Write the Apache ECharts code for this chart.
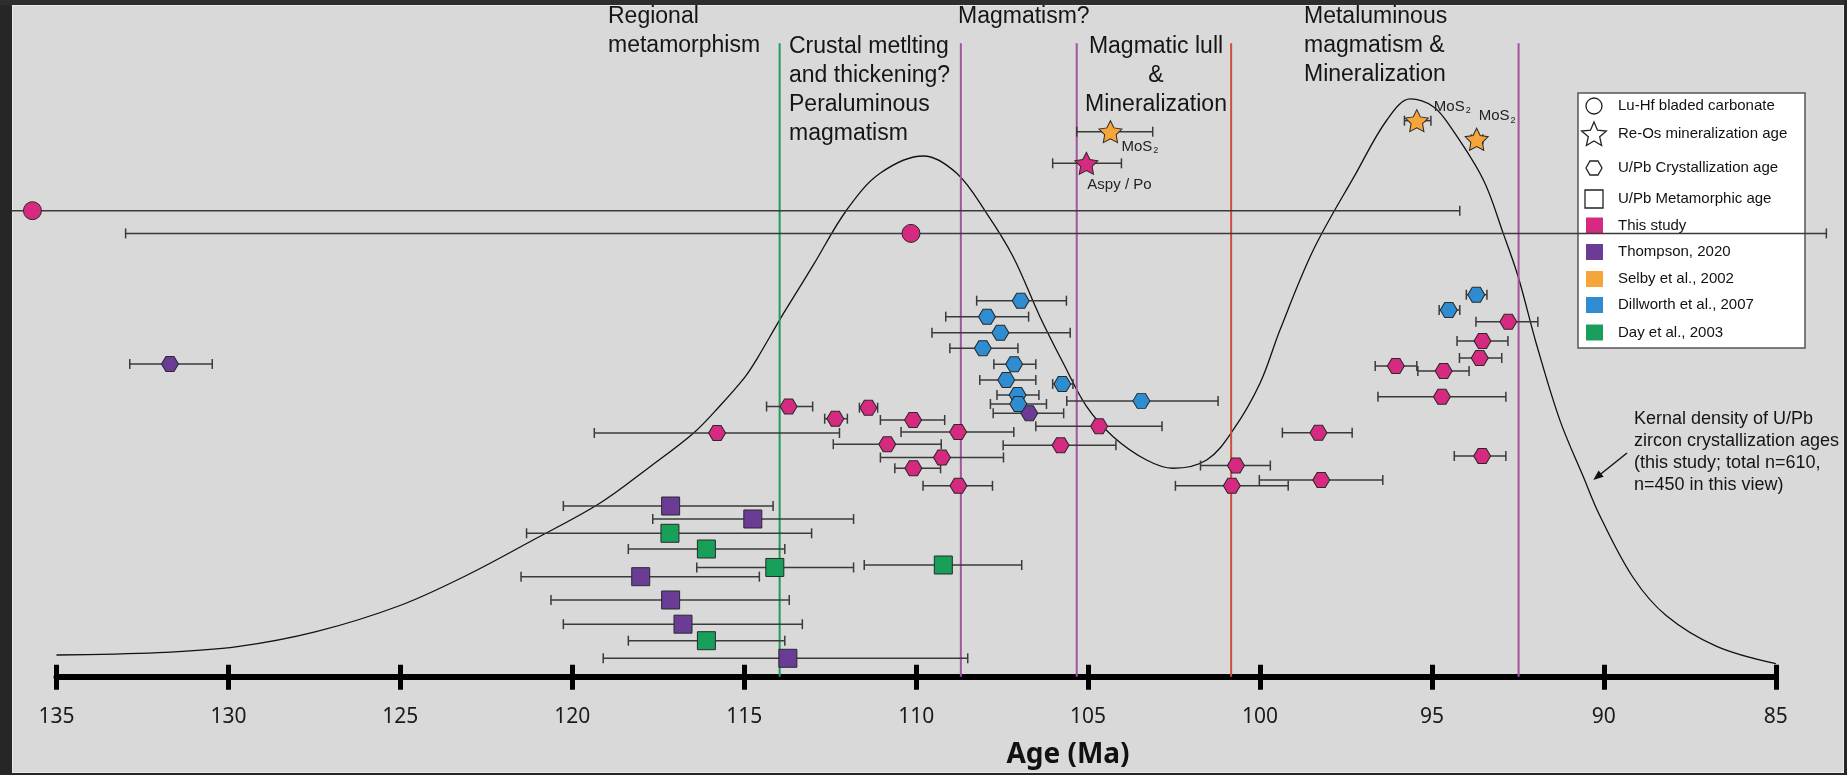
<!DOCTYPE html>
<html>
<head>
<meta charset="utf-8">
<title>Age (Ma)</title>
<script src="https://cdn.jsdelivr.net/npm/echarts@6/dist/echarts.min.js"></script>
<style>
  html, body { margin:0; padding:0; background:#262626; }
  #ageChart { width:1847px; height:775px; }
</style>
</head>
<body>
<div id="ageChart"></div>
<script>
// x axis: age in Ma (old on the left)
var ageTicks = [135, 130, 125, 120, 115, 110, 105, 100, 95, 90, 85];

// every sample: [age, older end of error, younger end of error, row]
// row = place in the stack, 0 = axis, 100 = top of plot
var luHfThisStudy = [
  [135.70, 177.20, 94.19, 69.38],
  [110.15, 132.99, 83.53, 66.00]
];
var reOsThisStudy = [
  [105.05, 106.03, 104.03, 76.43]
];
var reOsThisStudyLabels = ['Aspy / Po'];
var reOsSelby = [
  [104.35, 105.33, 103.12, 81.14],
  [95.44, 95.80, 95.03, 82.78],
  [93.70, 93.85, 93.52, 80.01]
];
var reOsSelbyLabels = ['MoS{sub|2}', 'MoS{sub|2}', 'MoS{sub|2}'];

var upbThisStudy = [
  [113.71, 114.35, 113.01, 40.23],
  [112.35, 112.66, 112.00, 38.41],
  [111.39, 111.65, 111.12, 40.05],
  [110.09, 111.04, 109.17, 38.22],
  [115.79, 119.36, 112.23, 36.28],
  [108.78, 110.44, 107.16, 36.43],
  [104.68, 106.52, 102.85, 37.28],
  [110.84, 112.41, 109.27, 34.61],
  [105.80, 107.47, 104.19, 34.45],
  [109.25, 111.04, 107.46, 32.63],
  [110.08, 110.62, 109.29, 31.03],
  [108.77, 109.80, 107.78, 28.42],
  [100.70, 101.73, 99.70, 31.44],
  [100.82, 102.46, 99.18, 28.42],
  [98.22, 100.02, 96.43, 29.28],
  [92.78, 93.72, 91.92, 52.84],
  [93.53, 94.27, 92.79, 49.98],
  [93.61, 94.20, 92.97, 47.45],
  [96.05, 96.65, 95.44, 46.26],
  [94.66, 95.41, 93.92, 45.51],
  [94.71, 96.57, 92.85, 41.67],
  [98.30, 99.35, 97.32, 36.33],
  [93.54, 94.35, 92.85, 32.86]
];
var upbThompson = [
  [131.70, 132.87, 130.47, 46.55],
  [106.71, 107.76, 105.71, 39.21]
];
var upbDillworth = [
  [106.96, 108.24, 105.63, 55.98],
  [107.94, 109.14, 106.73, 53.60],
  [107.55, 109.54, 105.52, 51.21],
  [108.06, 109.02, 107.04, 48.89],
  [107.15, 107.74, 106.52, 46.51],
  [107.38, 108.15, 106.52, 44.17],
  [105.75, 106.03, 105.44, 43.58],
  [103.45, 105.62, 101.22, 41.06],
  [107.05, 107.65, 106.43, 41.94],
  [107.03, 107.84, 106.21, 40.60],
  [93.71, 94.00, 93.40, 56.87],
  [94.51, 94.79, 94.19, 54.59]
];
var metaThompson = [
  [117.14, 120.26, 114.16, 25.41],
  [114.75, 117.66, 111.82, 23.48],
  [118.01, 121.49, 114.56, 14.89],
  [117.14, 120.62, 113.69, 11.42],
  [116.78, 120.26, 113.31, 7.82],
  [113.73, 119.10, 108.50, 2.74]
];
var metaDay = [
  [117.16, 121.33, 113.04, 21.35],
  [116.10, 118.37, 113.82, 19.01],
  [114.11, 116.38, 111.82, 16.26],
  [109.21, 111.51, 106.93, 16.63],
  [116.10, 118.37, 113.82, 5.36]
];

// kernel density of U/Pb zircon ages (relative units)
var kdeAge = [135.00, 132.04, 129.74, 127.45, 125.01, 123.07, 121.14, 119.20, 117.74, 116.48,
  115.71, 114.98, 114.62, 113.96, 113.53, 112.99, 112.02, 111.05, 109.79, 108.82,
  107.95, 107.18, 106.40, 105.72, 105.04, 104.27, 103.30, 102.53, 101.55, 100.78,
  100.00, 99.42, 98.45, 97.21, 96.31, 95.63, 94.96, 94.48, 93.51, 92.93,
  92.49, 91.96, 91.28, 90.60, 90.12, 89.15, 88.18, 86.72, 85.00];
var kdeDensity = [3.23, 3.57, 4.47, 6.70, 10.60, 15.10, 20.35, 25.82, 31.26, 36.24,
  40.30, 44.60, 47.40, 53.20, 56.80, 61.30, 69.48, 74.94, 77.52, 74.94,
  68.99, 62.53, 53.60, 46.66, 40.20, 35.73, 32.26, 31.03, 32.26, 36.73,
  43.68, 51.61, 63.53, 74.94, 82.88, 86.01, 84.86, 82.00, 74.02, 66.04,
  59.50, 49.50, 38.20, 29.80, 24.00, 14.77, 9.07, 4.51, 1.94];

// phase boundaries (Ma)
var phaseAges = [113.97, 108.70, 105.33, 100.84, 92.48];

var colors = {
  thisStudy: '#d62980',
  thompson: '#6b3c96',
  selby: '#f6a53a',
  dillworth: '#2d8cd2',
  day: '#18a05a'
};
var phaseColors = ['#1f9c55', '#a2559c', '#a2559c', '#cf4f3a', '#a2559c'];
var phaseTop = 94.3;

var HEX = 'path://M0,7.5L4.5,0L12.5,0L17,7.5L12.5,15L4.5,15Z';
var STAR = 'path://M10,0L12.94,5.95L19.51,6.91L14.76,11.55L15.88,18.09L10,15L4.12,18.09L5.24,11.55L0.49,6.91L7.06,5.95Z';
var FONT = '"Liberation Sans", Arial, sans-serif';

//error bar with end caps
function renderErrorBar(params, api) {
  var row = api.value(3);
  var a = api.coord([api.value(1), row]);
  var b = api.coord([api.value(2), row]);
  var cap = 5;
  var st = {stroke: '#3a3a3a', lineWidth: 1.5};
  return {
    type: 'group',
    children: [
      {type: 'line', shape: {x1: a[0], y1: a[1], x2: b[0], y2: b[1]}, style: st},
      {type: 'line', shape: {x1: a[0], y1: a[1] - cap, x2: a[0], y2: a[1] + cap}, style: st},
      {type: 'line', shape: {x1: b[0], y1: b[1] - cap, x2: b[0], y2: b[1] + cap}, style: st}
    ]
  };
}

function renderPhase(params, api) {
  var p0 = api.coord([api.value(0), 0]);
  var p1 = api.coord([api.value(0), phaseTop]);
  return {
    type: 'line',
    shape: {x1: p0[0], y1: p0[1], x2: p1[0], y2: p1[1]},
    style: {stroke: phaseColors[params.dataIndex], lineWidth: 2}
  };
}

function ageAxis(inside) {
  return {
    type: 'value',
    inverse: true,
    position: 'bottom',
    min: Math.min.apply(null, ageTicks),
    max: Math.max.apply(null, ageTicks),
    interval: ageTicks[0] - ageTicks[1],
    axisLine: {show: !inside, onZero: false, lineStyle: {color: '#000', width: 6}},
    axisTick: {show: true, inside: inside, length: inside ? 12 : 13, lineStyle: {color: '#000', width: 5}},
    axisLabel: {
      show: !inside, margin: 40, verticalAlign: 'middle',
      fontSize: 21, fontFamily: '"Noto Sans", sans-serif', color: '#1a1a1a'
    },
    splitLine: {show: false}
  };
}

function starLabel(text, offset) {
  return {
    show: true, formatter: text, position: 'inside', offset: offset,
    align: 'left', verticalAlign: 'middle',
    fontSize: 15, fontFamily: FONT, color: '#222',
    rich: {sub: {fontSize: 9, fontFamily: FONT, color: '#222', padding: [8, 0, 0, 1]}}
  };
}

// one error bar series + one marker series per group
var groups = [
  {name: 'metaThompson', data: metaThompson, symbol: 'rect', size: 18, color: colors.thompson},
  {name: 'metaDay', data: metaDay, symbol: 'rect', size: 18, color: colors.day},
  {name: 'upbThompson', data: upbThompson, symbol: HEX, size: [17, 15], color: colors.thompson},
  {name: 'upbDillworth', data: upbDillworth, symbol: HEX, size: [17, 15], color: colors.dillworth},
  {name: 'upbThisStudy', data: upbThisStudy, symbol: HEX, size: [17, 15], color: colors.thisStudy},
  {name: 'luHf', data: luHfThisStudy, symbol: 'circle', size: 18, color: colors.thisStudy},
  {name: 'reOsThisStudy', data: reOsThisStudy, symbol: STAR, size: [23, 22], color: colors.thisStudy,
    labels: reOsThisStudyLabels, offsets: [[1, 22]]},
  {name: 'reOsSelby', data: reOsSelby, symbol: STAR, size: [23, 22], color: colors.selby,
    labels: reOsSelbyLabels, offsets: [[11, 15], [17, -14], [2, -23]]}
];

var seriesList = [
  {
    name: 'kde', type: 'line', smooth: 0.35, symbol: 'none', silent: true, z: 2,
    data: kdeAge.map(function (a, i) { return [a, kdeDensity[i]]; }),
    lineStyle: {color: '#111', width: 1.3}
  },
  {
    name: 'phases', type: 'custom', z: 3, silent: true,
    data: phaseAges.map(function (a) { return [a]; }),
    encode: {x: 0},
    renderItem: renderPhase
  }
];
groups.forEach(function (g) {
  seriesList.push({
    name: g.name + 'Err', type: 'custom', z: 4, silent: true,
    data: g.data, encode: {x: [0, 1, 2], y: 3},
    renderItem: renderErrorBar
  });
  seriesList.push({
    name: g.name, type: 'scatter', z: 5, clip: false, silent: true,
    symbol: g.symbol, symbolSize: g.size,
    encode: {x: 0, y: 3},
    itemStyle: {color: g.color, borderColor: '#2a2a2a', borderWidth: 1, opacity: 1},
    data: g.data.map(function (d, i) {
      if (!g.labels) return d;
      return {value: d, label: starLabel(g.labels[i], g.offsets[i])};
    })
  });
});

// legend shapes
function starPoints(cx, cy, R, r) {
  var pts = [];
  for (var k = 0; k < 10; k++) {
    var ang = (-90 + 36 * k) * Math.PI / 180;
    var rad = k % 2 ? r : R;
    pts.push([cx + rad * Math.cos(ang), cy + rad * Math.sin(ang)]);
  }
  return pts;
}
function hexPoints(cx, cy, w, h) {
  return [[cx - w / 2, cy], [cx - w / 4, cy - h / 2], [cx + w / 4, cy - h / 2],
    [cx + w / 2, cy], [cx + w / 4, cy + h / 2], [cx - w / 4, cy + h / 2]];
}

var legendItems = [
  {text: 'Lu-Hf bladed carbonate', y: 106},
  {text: 'Re-Os mineralization age', y: 134},
  {text: 'U/Pb Crystallization age', y: 168},
  {text: 'U/Pb Metamorphic age', y: 199},
  {text: 'This study', y: 225.5, color: colors.thisStudy},
  {text: 'Thompson, 2020', y: 252, color: colors.thompson},
  {text: 'Selby et al., 2002', y: 279, color: colors.selby},
  {text: 'Dillworth et al., 2007', y: 305, color: colors.dillworth},
  {text: 'Day et al., 2003', y: 332.5, color: colors.day}
];

var outline = {fill: 'none', stroke: '#222', lineWidth: 1.3};
var legendKids = [
  {type: 'rect', shape: {x: 1578, y: 93, width: 227, height: 255},
    style: {fill: '#fff', stroke: '#555', lineWidth: 1.5}},
  {type: 'circle', shape: {cx: 1594, cy: 106, r: 8}, style: outline},
  {type: 'polygon', shape: {points: starPoints(1594, 135, 13, 6)}, style: outline},
  {type: 'polygon', shape: {points: hexPoints(1594, 168, 16, 14)}, style: outline},
  {type: 'rect', shape: {x: 1585, y: 190, width: 18, height: 18}, style: outline}
];
legendItems.forEach(function (it) {
  if (it.color) {
    legendKids.push({type: 'rect', shape: {x: 1586, y: it.y - 8, width: 17, height: 16}, style: {fill: it.color}});
  }
  legendKids.push({type: 'text', style: {
    text: it.text, x: 1618, y: it.y, font: '15px ' + FONT, fill: '#111',
    textAlign: 'left', textVerticalAlign: 'middle'
  }});
});

function note(text, x, y, align) {
  return {type: 'text', z: 20, style: {
    text: text, x: x, y: y, font: '23px ' + FONT, fill: '#151515',
    textAlign: align || 'left', textVerticalAlign: 'top', lineHeight: 29
  }};
}

var frame = '#262626';
var graphics = [
  {type: 'rect', z: -10, shape: {x: 12, y: 5, width: 1832, height: 768},
    style: {fill: '#d9d9d9', stroke: '#eeeeee', lineWidth: 1.5}},
  note('Regional\nmetamorphism', 608, 2),
  note('Crustal metlting\nand thickening?\nPeraluminous\nmagmatism', 789, 32),
  note('Magmatism?', 958, 2),
  note('Magmatic lull\n&\nMineralization', 1156, 32, 'center'),
  note('Metaluminous\nmagmatism &\nMineralization', 1304, 2),
  {type: 'text', z: 20, style: {
    text: 'Kernal density of U/Pb\nzircon crystallization ages\n(this study; total n=610,\nn=450 in this view)',
    x: 1634, y: 408, font: '18px ' + FONT, fill: '#151515', textAlign: 'left', textVerticalAlign: 'top', lineHeight: 22
  }},
  {type: 'line', z: 20, shape: {x1: 1627, y1: 453, x2: 1597, y2: 477}, style: {stroke: '#111', lineWidth: 1.4}},
  {type: 'polygon', z: 20, shape: {points: [[1593.3, 480], [1603.6, 476.8], [1598.6, 470.6]]}, style: {fill: '#111'}},
  {type: 'group', z: 30, children: legendKids},
  {type: 'text', z: 20, style: {
    text: 'Age (Ma)', x: 1068, y: 755, font: 'bold 28px "Noto Sans", sans-serif', fill: '#111',
    textAlign: 'center', textVerticalAlign: 'middle'
  }},
  // dark border hides the long error bar that runs off the left
  {type: 'rect', z: 100, shape: {x: 0, y: 0, width: 12, height: 775}, style: {fill: frame}},
  {type: 'rect', z: 100, shape: {x: 0, y: 0, width: 1847, height: 5}, style: {fill: '#2e2e2e'}},
  {type: 'rect', z: 100, shape: {x: 1844, y: 0, width: 3, height: 775}, style: {fill: frame}},
  {type: 'rect', z: 100, shape: {x: 0, y: 773, width: 1847, height: 2}, style: {fill: frame}}
];

var diagram = echarts.init(document.getElementById('ageChart'));
diagram.setOption({
  animation: false,
  backgroundColor: '#262626',
  grid: {left: 56.5, right: 71.2, top: 5, bottom: 98.3, containLabel: false},
  xAxis: [ageAxis(false), ageAxis(true)],
  yAxis: {type: 'value', min: 0, max: 100, show: false},
  graphic: graphics,
  series: seriesList
});
</script>
</body>
</html>
